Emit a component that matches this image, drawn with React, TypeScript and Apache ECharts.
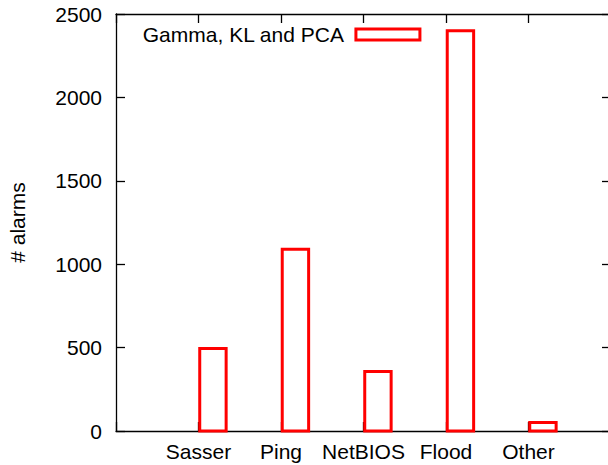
import React, { useEffect, useRef } from "react";
import * as echarts from "echarts";

const categories = ["Sasser", "Ping", "NetBIOS", "Flood", "Other"];
const alarms = [495, 1090, 357, 2400, 51];
const seriesName = "Gamma, KL and PCA";
const yTicks = [0, 500, 1000, 1500, 2000, 2500];

const FONT = "Liberation Sans, Arial, sans-serif";
const FS = 21;

export default function App() {
  const ref = useRef<HTMLDivElement>(null);
  useEffect(() => {
    if (!ref.current) return;
    const chart = echarts.init(ref.current, null, { renderer: "svg" });
    const barFrac = 0.335;
    const axisCommon = {
      axisLine: { show: true, onZero: false, lineStyle: { color: "#000", width: 1.3 } },
      splitLine: { show: false },
    };
    const tick = { show: true, inside: true, length: 9, lineStyle: { color: "#000", width: 1.3 } };
    chart.setOption({
      animation: false,
      textStyle: { fontFamily: FONT },
      grid: { left: 116, width: 495, top: 14, bottom: 34, containLabel: false, outerBoundsMode: "none" },
      legend: {
        show: true,
        left: 137,
        top: 19,
        align: "right",
        itemWidth: 64,
        itemHeight: 11,
        textStyle: { fontFamily: FONT, fontSize: FS, color: "#000", padding: [0, 7, 0, 0] },
        data: [
          {
            name: seriesName,
            icon: "rect",
            itemStyle: { color: "rgba(0,0,0,0)", borderColor: "#ff0000", borderWidth: 3 },
          },
        ],
      },
      xAxis: [
        {
          type: "value",
          min: -1,
          max: 5,
          interval: 1,
          ...axisCommon,
          axisTick: tick,
          axisLabel: {
            show: true,
            margin: 10,
            color: "#000",
            fontFamily: FONT,
            fontSize: FS,
            formatter: (v: number) => (v >= 0 && v < categories.length ? categories[v] : ""),
          },
        },
        {
          type: "value",
          position: "top",
          min: -1,
          max: 5,
          interval: 1,
          ...axisCommon,
          axisTick: tick,
          axisLabel: { show: false },
        },
      ],
      yAxis: [
        {
          type: "value",
          position: "left",
          min: yTicks[0],
          max: yTicks[yTicks.length - 1],
          interval: 500,
          name: "# alarms",
          nameLocation: "middle",
          nameGap: 88,
          nameTextStyle: { color: "#000", fontFamily: FONT, fontSize: FS },
          ...axisCommon,
          axisTick: tick,
          axisLabel: {
            show: true,
            margin: 14,
            color: "#000",
            fontFamily: FONT,
            fontSize: FS,
            formatter: (v: number) => String(v),
          },
        },
        {
          type: "value",
          position: "right",
          min: yTicks[0],
          max: yTicks[yTicks.length - 1],
          interval: 500,
          ...axisCommon,
          axisTick: tick,
          axisLabel: { show: false },
        },
      ],
      series: [
        {
          name: seriesName,
          type: "custom",
          xAxisIndex: 0,
          yAxisIndex: 0,
          data: alarms.map((v, i) => [i, v]),
          itemStyle: { color: "rgba(0,0,0,0)", borderColor: "#ff0000", borderWidth: 3 },
          renderItem: (params: any, api: any) => {
            const i = api.value(0);
            const v = api.value(1);
            const p0 = api.coord([i + 0.015, v]);
            const p1 = api.coord([i + barFrac, 0]);
            return {
              type: "rect",
              shape: { x: p0[0], y: p0[1], width: p1[0] - p0[0], height: p1[1] - p0[1] },
              style: { fill: "none", stroke: "#ff0000", lineWidth: 3 },
            };
          },
        },
      ],
    });
    return () => chart.dispose();
  }, []);
  return <div ref={ref} style={{ width: 608, height: 465, position: "absolute", left: 0, top: 0 }} />;
}
